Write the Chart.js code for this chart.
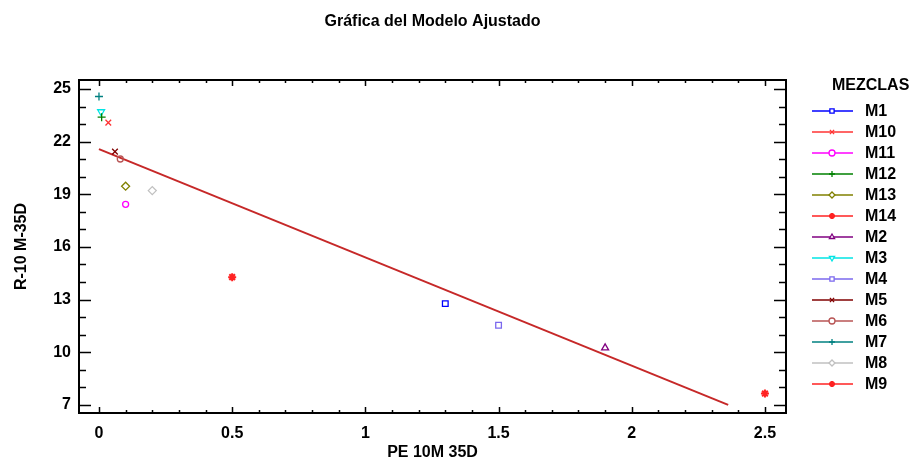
<!DOCTYPE html>
<html>
<head>
<meta charset="utf-8">
<title>Gráfica del Modelo Ajustado</title>
<script src="https://cdn.jsdelivr.net/npm/chart.js@4.4.1/dist/chart.umd.min.js"></script>
<style>
  html, body { margin: 0; padding: 0; background: #fff; }
  #wrap { width: 912px; height: 462px; }
</style>
</head>
<body>
<div id="wrap"><canvas id="chart" width="912" height="462"></canvas></div>
<script>
// datos
const mezclas = ['M1', 'M10', 'M11', 'M12', 'M13', 'M14', 'M2', 'M3', 'M4', 'M5', 'M6', 'M7', 'M8', 'M9'];
const peValues = [1.3, 0.035, 0.1, 0.01, 0.1, 0.5, 1.9, 0.008, 1.5, 0.06, 0.08, 0.0, 0.2, 2.5];
const rValues = [12.77, 23.08, 18.43, 23.39, 19.46, 14.28, 10.25, 23.7, 11.54, 21.43, 21.01, 24.57, 19.21, 7.65];

// recta ajustada
const fitX = [0, 2.362];
const fitY = [21.57, 7.0];

// ejes
const xTicks = [0, 0.5, 1, 1.5, 2, 2.5];
const yTicks = [7, 10, 13, 16, 19, 22, 25];

// estilo de cada mezcla
const colors = ['#0000ff', '#ff3333', '#ff00ff', '#008000', '#808000', '#ff2222', '#800080',
                '#00e5e5', '#7b68ee', '#800000', '#b85555', '#008080', '#c0c0c0', '#ff2222'];
const markers = ['rect', 'crossRot', 'circle', 'cross', 'rectRot', 'star', 'triangle',
                 'triangle', 'rect', 'crossRot', 'circle', 'cross', 'rectRot', 'star'];
const rotations = [0, 0, 0, 0, 0, 0, 0, 180, 0, 0, 0, 0, 0, 0];
const radii = [4, 4, 3, 4, 4, 4, 4, 4, 4, 4, 3, 4, 4, 4];

const FONT = '"Liberation Sans", Arial, sans-serif';

const datasets = mezclas.map((name, i) => ({
    type: 'scatter',
    label: name,
    data: [{ x: peValues[i], y: rValues[i] }],
    borderColor: colors[i],
    backgroundColor: 'rgba(0,0,0,0)',
    pointStyle: markers[i],
    rotation: rotations[i],
    pointRadius: radii[i],
    pointBorderWidth: markers[i] === 'star' ? 2 : 1.3,
    pointHoverRadius: radii[i]
}));

datasets.push({
    type: 'line',
    label: 'ajuste',
    data: fitX.map((x, i) => ({ x: x, y: fitY[i] })),
    borderColor: '#c62828',
    borderWidth: 2,
    pointRadius: 0,
    fill: false,
    tension: 0
});

// marco con marcas hacia dentro en los cuatro lados
const framePlugin = {
    id: 'frame',
    afterDatasetsDraw(chart) {
        const ctx = chart.ctx;
        const a = chart.chartArea;
        const xs = chart.scales.x, ys = chart.scales.y;
        ctx.save();
        ctx.strokeStyle = '#000';
        ctx.lineWidth = 1.5;
        ctx.beginPath();
        for (let k = 0; k <= 25; k++) {
            const v = k / 10;
            const px = Math.round(xs.getPixelForValue(v)) + 0.5;
            const len = (k % 5 === 0) ? 6 : 3;
            ctx.moveTo(px, a.bottom); ctx.lineTo(px, a.bottom - len);
            ctx.moveTo(px, a.top); ctx.lineTo(px, a.top + len);
        }
        for (let v = 7; v <= 25; v++) {
            const py = Math.round(ys.getPixelForValue(v)) + 0.5;
            const len = ((v - 7) % 3 === 0) ? 12 : 7;
            ctx.moveTo(a.left, py); ctx.lineTo(a.left + len, py);
            ctx.moveTo(a.right, py); ctx.lineTo(a.right - len, py);
        }
        ctx.stroke();
        ctx.lineWidth = 2;
        ctx.strokeRect(a.left, a.top, a.right - a.left, a.bottom - a.top);
        ctx.restore();
    }
};

// leyenda con línea y marcador, como en el original
const legendPlugin = {
    id: 'mezclasLegend',
    afterDraw(chart) {
        const ctx = chart.ctx;
        const x0 = chart.chartArea.right + 26;
        ctx.save();
        ctx.fillStyle = '#000';
        ctx.font = 'bold 16px ' + FONT;
        ctx.textBaseline = 'middle';
        ctx.textAlign = 'left';
        ctx.fillText('MEZCLAS', x0 + 20, 86);
        chart.data.datasets.forEach((ds, i) => {
            if (ds.type !== 'scatter') return;
            const y = 111 + i * 21;
            ctx.strokeStyle = ds.borderColor;
            ctx.lineWidth = 1.5;
            ctx.beginPath();
            ctx.moveTo(x0, y); ctx.lineTo(x0 + 41, y);
            ctx.stroke();
            ctx.lineWidth = ds.pointBorderWidth;
            ctx.fillStyle = '#fff';
            Chart.helpers.drawPoint(ctx, {
                pointStyle: ds.pointStyle,
                rotation: ds.rotation,
                radius: 3,
                borderWidth: ds.pointBorderWidth
            }, x0 + 20, y);
            ctx.fillStyle = '#000';
            ctx.fillText(ds.label, x0 + 53, y + 1);
        });
        ctx.restore();
    }
};

new Chart(document.getElementById('chart'), {
    data: { datasets: datasets },
    options: {
        responsive: false,
        animation: false,
        layout: { padding: { left: 0, right: 126, top: 0, bottom: 0 } },
        plugins: {
            legend: { display: false },
            tooltip: { enabled: false },
            title: {
                display: true,
                fullSize: false,
                text: 'Gráfica del Modelo Ajustado',
                color: '#000',
                font: { family: FONT, size: 16, weight: 'bold' },
                padding: { top: 12, bottom: 48.8 }
            }
        },
        scales: {
            x: {
                type: 'linear',
                min: -0.075,
                max: 2.579,
                grid: { display: false },
                border: { display: false },
                afterBuildTicks: s => { s.ticks = xTicks.map(v => ({ value: v })); },
                afterFit: s => { s.height = 49; },
                ticks: {
                    color: '#000',
                    padding: 3,
                    font: { family: FONT, size: 16, weight: 'bold' },
                    callback: v => String(v)
                },
                title: {
                    display: true,
                    text: 'PE 10M 35D',
                    color: '#000',
                    font: { family: FONT, size: 16, weight: 'bold' },
                    padding: { top: 0, bottom: 0 }
                }
            },
            y: {
                type: 'linear',
                min: 6.54,
                max: 25.51,
                grid: { display: false },
                border: { display: false },
                afterBuildTicks: s => { s.ticks = yTicks.map(v => ({ value: v })); },
                afterFit: s => { s.width = 79; },
                ticks: {
                    color: '#000',
                    padding: 0,
                    font: { family: FONT, size: 16, weight: 'bold' }
                },
                title: {
                    display: true,
                    text: 'R-10 M-35D',
                    color: '#000',
                    font: { family: FONT, size: 16, weight: 'bold' },
                    padding: { top: 12, bottom: 0 }
                }
            }
        }
    },
    plugins: [framePlugin, legendPlugin]
});
</script>
</body>
</html>
